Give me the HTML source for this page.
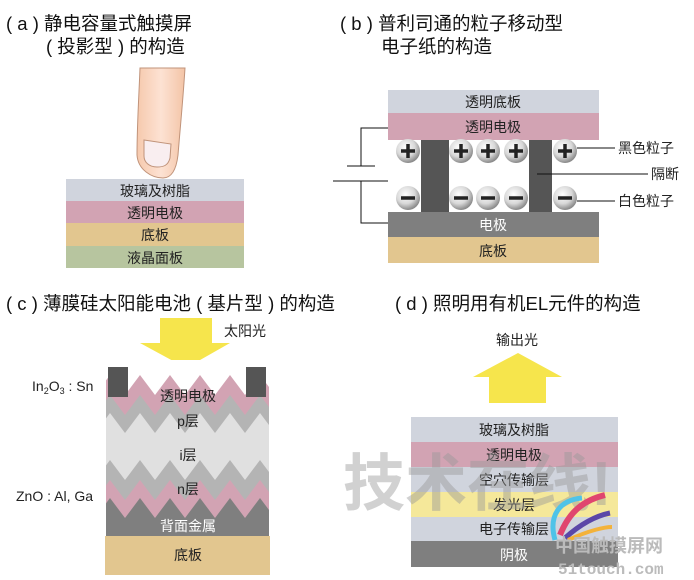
<!DOCTYPE html>
<html><head><meta charset="utf-8"><style>
body{margin:0;background:#fff;}
svg{display:block;font-family:"Liberation Sans","Noto Sans CJK SC",sans-serif;}
</style></head><body>
<svg width="694" height="580" viewBox="0 0 694 580" xmlns="http://www.w3.org/2000/svg">
<defs>
<radialGradient id="ball" cx="40%" cy="35%" r="65%"><stop offset="0" stop-color="#ffffff"/><stop offset="0.6" stop-color="#d8d8d8"/><stop offset="1" stop-color="#8a8a8a"/></radialGradient>
<linearGradient id="fing" x1="0" x2="1"><stop offset="0" stop-color="#f6c9ad"/><stop offset="0.5" stop-color="#fde2d3"/><stop offset="1" stop-color="#f3c4a6"/></linearGradient>
<clipPath id="cbox"><rect x="106" y="360" width="163" height="176"/></clipPath>
</defs>
<g font-size="18.5" fill="#111">
<text x="6" y="30">( a ) 静电容量式触摸屏</text>
<text x="46" y="53">( 投影型 ) 的构造</text>
<text x="340" y="30">( b ) 普利司通的粒子移动型</text>
<text x="381" y="53">电子纸的构造</text>
<text x="6" y="310">( c ) 薄膜硅太阳能电池 ( 基片型 ) 的构造</text>
<text x="395" y="310">( d ) 照明用有机EL元件的构造</text>
</g>
<!-- (a) -->
<path d="M140,68 L185,68 C183,100 180,130 178,155 C176,172 170,178 163,178 C152,178 138,170 137,155 C137,125 139,95 140,68 Z" fill="url(#fing)" stroke="#c0937a" stroke-width="1"/>
<path d="M144,140 L171,144 L170,158 C168,166 163,167 157,167 C149,167 144,162 144,156 Z" fill="#f9eef0" stroke="#c0937a" stroke-width="1"/>
<rect x="66" y="179" width="178" height="22" fill="#d0d4dd"/>
<rect x="66" y="201" width="178" height="22" fill="#d2a3b3"/>
<rect x="66" y="223" width="178" height="23" fill="#e2c68f"/>
<rect x="66" y="246" width="178" height="22" fill="#b7c59f"/>
<g font-size="14" fill="#222" text-anchor="middle">
<text x="155" y="196">玻璃及树脂</text><text x="155" y="218">透明电极</text><text x="155" y="240">底板</text><text x="155" y="263">液晶面板</text>
</g>
<!-- (b) -->
<rect x="388" y="90" width="211" height="23" fill="#d0d4dd"/>
<rect x="388" y="113" width="211" height="27" fill="#d2a3b3"/>
<rect x="421" y="140" width="28" height="72" fill="#555"/>
<rect x="529" y="140" width="23" height="72" fill="#555"/>
<rect x="388" y="212" width="211" height="25" fill="#7f7f7f"/>
<rect x="388" y="237" width="211" height="26" fill="#e2c68f"/>
<g font-size="14" text-anchor="middle">
<text x="493" y="107" fill="#222">透明底板</text><text x="493" y="132" fill="#222">透明电极</text>
<text x="493" y="230" fill="#fff">电极</text><text x="493" y="256" fill="#222">底板</text>
</g>
<g stroke="#111" stroke-width="1" fill="none">
<path d="M388,128 H361 V166 M347,166 H375 M333,181 H388 M361,181 V223 H388"/>
<path d="M577,148 H615 M537,174 H648 M577,201 H615"/>
</g>
<g>
<circle cx="408" cy="151" r="12" fill="url(#ball)"/><circle cx="461" cy="151" r="12" fill="url(#ball)"/><circle cx="488" cy="151" r="12" fill="url(#ball)"/><circle cx="516" cy="151" r="12" fill="url(#ball)"/><circle cx="565" cy="151" r="12" fill="url(#ball)"/>
<circle cx="408" cy="198" r="12" fill="url(#ball)"/><circle cx="461" cy="198" r="12" fill="url(#ball)"/><circle cx="488" cy="198" r="12" fill="url(#ball)"/><circle cx="516" cy="198" r="12" fill="url(#ball)"/><circle cx="565" cy="198" r="12" fill="url(#ball)"/>
</g>
<g stroke="#222" stroke-width="3.5">
<path d="M401,151 H415 M408,144 V158 M454,151 H468 M461,144 V158 M481,151 H495 M488,144 V158 M509,151 H523 M516,144 V158 M558,151 H572 M565,144 V158"/>
<path d="M401,198 H415 M454,198 H468 M481,198 H495 M509,198 H523 M558,198 H572"/>
</g>
<g font-size="14" fill="#222">
<text x="618" y="153">黑色粒子</text><text x="651" y="179">隔断</text><text x="618" y="206">白色粒子</text>
</g>
<!-- (c) -->
<path d="M160,318 H212 V343 H230 L186,368 L140,343 H160 Z" fill="#f6e54c"/>
<text x="224" y="336" font-size="14" fill="#222">太阳光</text>
<g clip-path="url(#cbox)">
<rect x="106" y="360" width="163" height="176" fill="#fff"/>
<path d="M95,395 l15,-20 l15,20 l15,-20 l15,20 l15,-20 l15,20 l15,-20 l15,20 l15,-20 l15,20 l15,-20 l15,20 l15,-20 l15,20 L305,540 L95,540 Z" fill="#d2a3b3"/>
<path d="M95,415 l15,-20 l15,20 l15,-20 l15,20 l15,-20 l15,20 l15,-20 l15,20 l15,-20 l15,20 l15,-20 l15,20 l15,-20 l15,20 L305,540 L95,540 Z" fill="#b4b4b4"/>
<path d="M95,433 l15,-20 l15,20 l15,-20 l15,20 l15,-20 l15,20 l15,-20 l15,20 l15,-20 l15,20 l15,-20 l15,20 l15,-20 l15,20 L305,540 L95,540 Z" fill="#e0e0e0"/>
<path d="M95,480 l15,-20 l15,20 l15,-20 l15,20 l15,-20 l15,20 l15,-20 l15,20 l15,-20 l15,20 l15,-20 l15,20 l15,-20 l15,20 L305,540 L95,540 Z" fill="#b4b4b4"/>
<path d="M95,500 l15,-20 l15,20 l15,-20 l15,20 l15,-20 l15,20 l15,-20 l15,20 l15,-20 l15,20 l15,-20 l15,20 l15,-20 l15,20 L305,540 L95,540 Z" fill="#d2a3b3"/>
<path d="M95,518 l15,-20 l15,20 l15,-20 l15,20 l15,-20 l15,20 l15,-20 l15,20 l15,-20 l15,20 l15,-20 l15,20 l15,-20 l15,20 L305,540 L95,540 Z" fill="#7f7f7f"/>
</g>
<rect x="108" y="367" width="20" height="30" fill="#555"/>
<rect x="246" y="367" width="20" height="30" fill="#555"/>
<rect x="105" y="536" width="165" height="39" fill="#e2c68f"/>
<g font-size="14" text-anchor="middle" fill="#222">
<text x="188" y="401">透明电极</text><text x="188" y="426">p层</text><text x="188" y="460">i层</text><text x="188" y="494">n层</text>
<text x="188" y="531" fill="#fff">背面金属</text><text x="188" y="560">底板</text>
</g>
<g font-size="14" fill="#222">
<text x="32" y="391">In<tspan font-size="9" dy="3">2</tspan><tspan dy="-3">O</tspan><tspan font-size="9" dy="3">3</tspan><tspan dy="-3"> : Sn</tspan></text>
<text x="16" y="501">ZnO : Al, Ga</text>
</g>
<!-- (d) -->
<path d="M518,353 L562,377 H546 V403 H489 V377 H473 Z" fill="#f6e54c"/>
<text x="517" y="345" font-size="14" fill="#222" text-anchor="middle">输出光</text>
<rect x="411" y="417" width="207" height="25" fill="#d0d4dd"/>
<rect x="411" y="442" width="207" height="25" fill="#d2a3b3"/>
<rect x="411" y="467" width="207" height="25" fill="#d0d4dd"/>
<rect x="411" y="492" width="207" height="25" fill="#f5e89a"/>
<rect x="411" y="517" width="207" height="24" fill="#d0d4dd"/>
<rect x="411" y="541" width="207" height="26" fill="#7f7f7f"/>
<g font-size="14" text-anchor="middle" fill="#222">
<text x="514" y="435">玻璃及树脂</text><text x="514" y="460">透明电极</text><text x="514" y="485">空穴传输层</text><text x="514" y="510">发光层</text><text x="514" y="534">电子传输层</text><text x="514" y="560" fill="#fff">阴极</text>
</g>
<!-- watermark -->
<text x="343" y="505" font-size="62" fill="#999" fill-opacity="0.45" font-weight="bold">技术在线!</text>
<path d="M555,540 C548,515 560,500 582,498" stroke="#4fc3e8" stroke-width="5" fill="none"/>
<path d="M560,535 C570,510 585,500 605,495" stroke="#e0456f" stroke-width="6" fill="none"/>
<path d="M565,538 C585,520 600,515 610,513" stroke="#5b47a8" stroke-width="5" fill="none"/>
<path d="M568,540 C590,530 605,527 612,527" stroke="#f3b23a" stroke-width="4" fill="none"/>
<text x="555" y="552" font-size="18" fill="#bbb" font-weight="bold">中国触摸屏网</text>
<text x="558" y="574" font-size="16" fill="#bbb" font-family="Liberation Mono,monospace" font-weight="bold">51touch.com</text>
</svg>
</body></html>
